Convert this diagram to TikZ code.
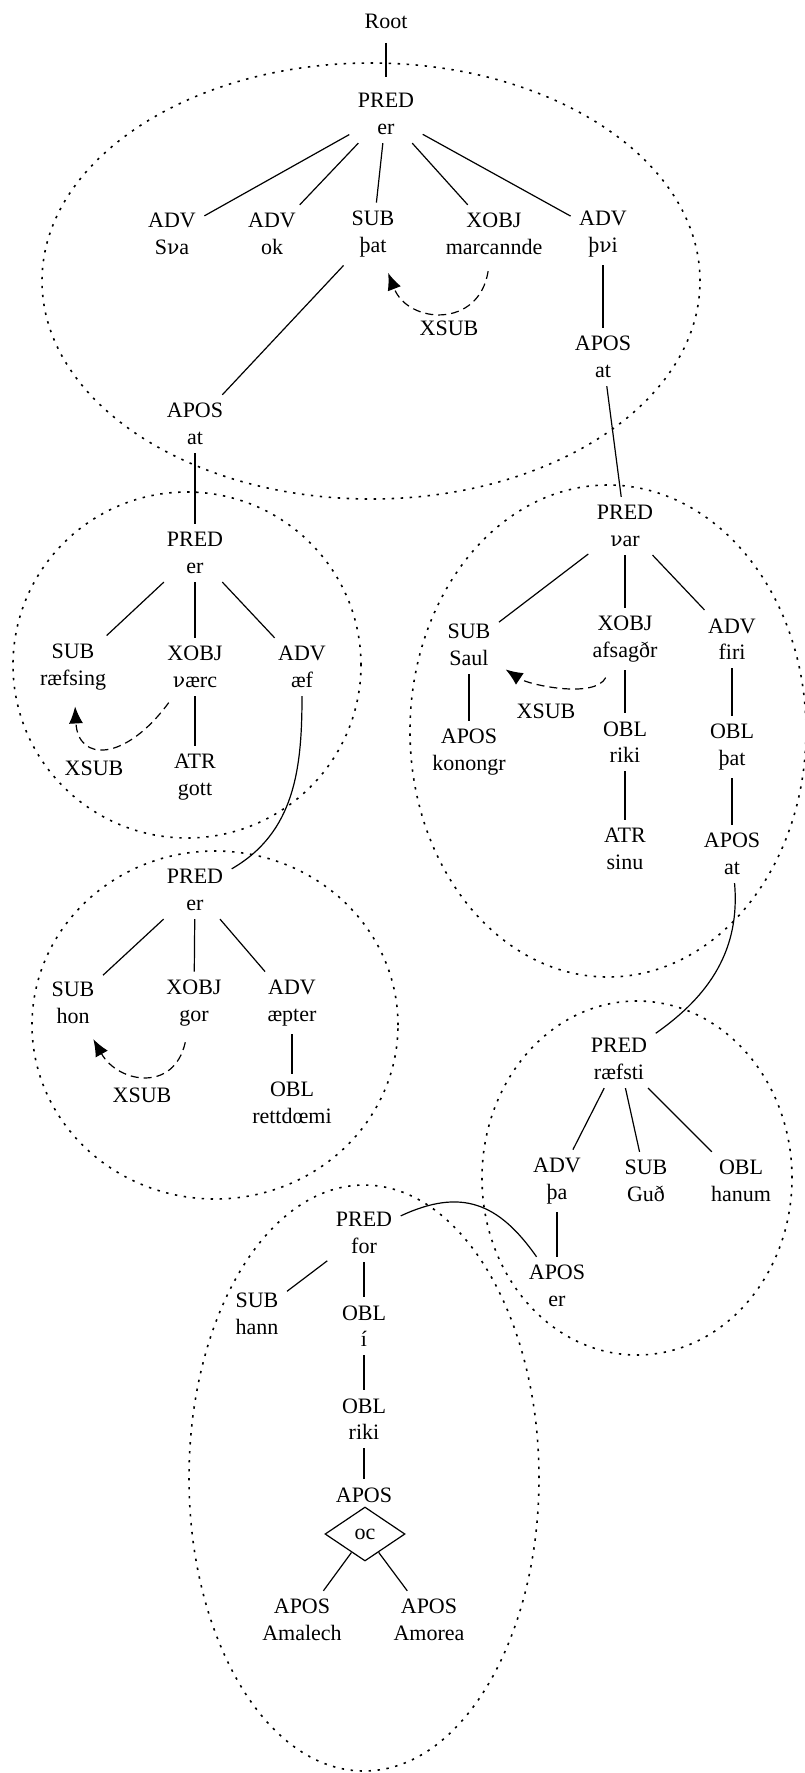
\documentclass[tikz,border=0pt]{standalone}
\usepackage{fontspec}
\setmainfont{Liberation Serif}
\newfontfamily\nufont[Scale=0.92]{DejaVu Serif}
\newcommand\vend{{\nufont ν}}
\usetikzlibrary{shapes.geometric,arrows.meta}

\begin{document}
\begin{tikzpicture}[x=0.5pt,y=0.5pt,line width=0.6pt]
\tikzstyle{every node}+=[inner sep=4pt,align=center,font=\fontsize{11}{13.2}\selectfont]
\tikzstyle{clause}=[line width=0.8pt,dash pattern=on 1.2pt off 3.3pt]
\tikzstyle{xsub}=[dash pattern=on 4pt off 2.5pt,-{Latex[length=8.5pt,width=7pt]},shorten <=4pt,shorten >=4pt]
\tikzstyle{coord}=[diamond,draw,inner sep=0pt,aspect=1.5,minimum width=40pt,minimum height=27pt]
\useasboundingbox (0,0) rectangle (804,-1773);
\draw [clause] (371,-281) ellipse [x radius=329,y radius=218];
\draw [clause] (187,-665) ellipse [x radius=174,y radius=173];
\draw [clause] (608,-731) ellipse [x radius=198,y radius=246];
\draw [clause] (215,-1025) ellipse [x radius=183,y radius=174];
\draw [clause] (637,-1178) ellipse [x radius=155,y radius=177];
\draw [clause] (364,-1478) ellipse [x radius=175,y radius=293];
\node (root) at (386,-21) {Root};
\node (er1) at (386,-114) {PRED\\er};
\node (sva) at (172,-234) {ADV\\S\vend a};
\node (ok) at (272,-234) {ADV\\ok};
\node (pat1) at (373,-234) {SUB\\þat};
\node (marcannde) at (494,-234) {XOBJ\\marcannde};
\node (pvi) at (603,-234) {ADV\\þ\vend i};
\node (xsub1) at (449,-328) {XSUB};
\node (at1) at (195,-424) {APOS\\at};
\node (at2) at (603,-357) {APOS\\at};
\draw [shorten <=3pt,shorten >=4pt] (root) -- (er1);
\draw (er1) -- (sva);
\draw (er1) -- (ok);
\draw (er1) -- (pat1);
\draw (er1) -- (marcannde);
\draw (er1) -- (pvi);
\draw (pat1) -- (at1);
\draw (pvi) -- (at2);
\draw [xsub] (marcannde) .. controls +(-15,-95) and +(35,-90) .. (pat1);
\node (er2) at (195,-553) {PRED\\er};
\node (raefsing) at (73,-667) {SUB\\ræfsing};
\node (vaerc) at (195,-667) {XOBJ\\\vend ærc};
\node (aef) at (302,-667) {ADV\\æf};
\node (xsub2) at (94,-768) {XSUB};
\node (gott) at (195,-777) {ATR\\gott};
\draw (at1) -- (er2);
\draw (er2) -- (raefsing);
\draw (er2) -- (vaerc);
\draw (er2) -- (aef);
\draw (vaerc) -- (gott);
\draw [xsub] (vaerc) .. controls +(-70,-95) and +(5,-95) .. (raefsing);
\node (var) at (625,-526) {PRED\\\vend ar};
\node (saul) at (469,-645) {SUB\\Saul};
\node (afsagdr) at (625,-639) {XOBJ\\afsagðr};
\node (firi) at (732,-639) {ADV\\firi};
\node (xsub3) at (546,-711) {XSUB};
\node (konongr) at (469,-752) {APOS\\konongr};
\node (riki1) at (625,-742) {OBL\\riki};
\node (sinu) at (625,-849) {ATR\\sinu};
\node (pat2) at (732,-747) {OBL\\þat};
\node (at3) at (732,-854) {APOS\\at};
\draw (at2) -- (var);
\draw (var) -- (saul);
\draw (var) -- (afsagdr);
\draw (var) -- (firi);
\draw (saul) -- (konongr);
\draw (afsagdr) -- (riki1);
\draw (riki1) -- (sinu);
\draw (firi) -- (pat2);
\draw (pat2) -- (at3);
\draw [xsub] (afsagdr) .. controls +(-30,-60) and +(60,-40) .. (saul);
\node (er3) at (195,-890) {PRED\\er};
\node (hon) at (73,-1003) {SUB\\hon};
\node (gor) at (194,-1003) {XOBJ\\gor};
\node (aepter) at (292,-1003) {ADV\\æpter};
\node (xsub4) at (142,-1095) {XSUB};
\node (rettdoemi) at (292,-1103) {OBL\\rettdœmi};
\draw (aef) to[out=-90,in=30] (er3);
\draw (er3) -- (hon);
\draw (er3) -- (gor);
\draw (er3) -- (aepter);
\draw (aepter) -- (rettdoemi);
\draw [xsub] (gor) .. controls +(-20,-90) and +(45,-80) .. (hon);
\node (raefsti) at (619,-1059) {PRED\\ræfsti};
\node (pa) at (557,-1181) {ADV\\þa};
\node (gud) at (646,-1181) {SUB\\Guð};
\node (hanum) at (741,-1181) {OBL\\hanum};
\node (er4) at (557,-1286) {APOS\\er};
\draw (at3) to[out=-85,in=35] (raefsti);
\draw (raefsti) -- (pa);
\draw (raefsti) -- (gud);
\draw (raefsti) -- (hanum);
\draw (pa) -- (er4);
\node (for) at (364,-1233) {PRED\\for};
\node (hann) at (257,-1314) {SUB\\hann};
\node (i) at (364,-1326) {OBL\\í};
\node (riki2) at (364,-1419) {OBL\\riki};
\node (apos) at (364,-1495) {APOS};
\node [coord] (oc) at (365,-1534) {oc};
\node (amalech) at (302,-1620) {APOS\\Amalech};
\node (amorea) at (429,-1620) {APOS\\Amorea};
\draw (er4) to[out=125,in=25,looseness=1.2] (for);
\draw (for) -- (hann);
\draw (for) -- (i);
\draw (i) -- (riki2);
\draw (riki2) -- (apos);
\draw (oc) -- (amalech);
\draw (oc) -- (amorea);
\end{tikzpicture}
\end{document}
